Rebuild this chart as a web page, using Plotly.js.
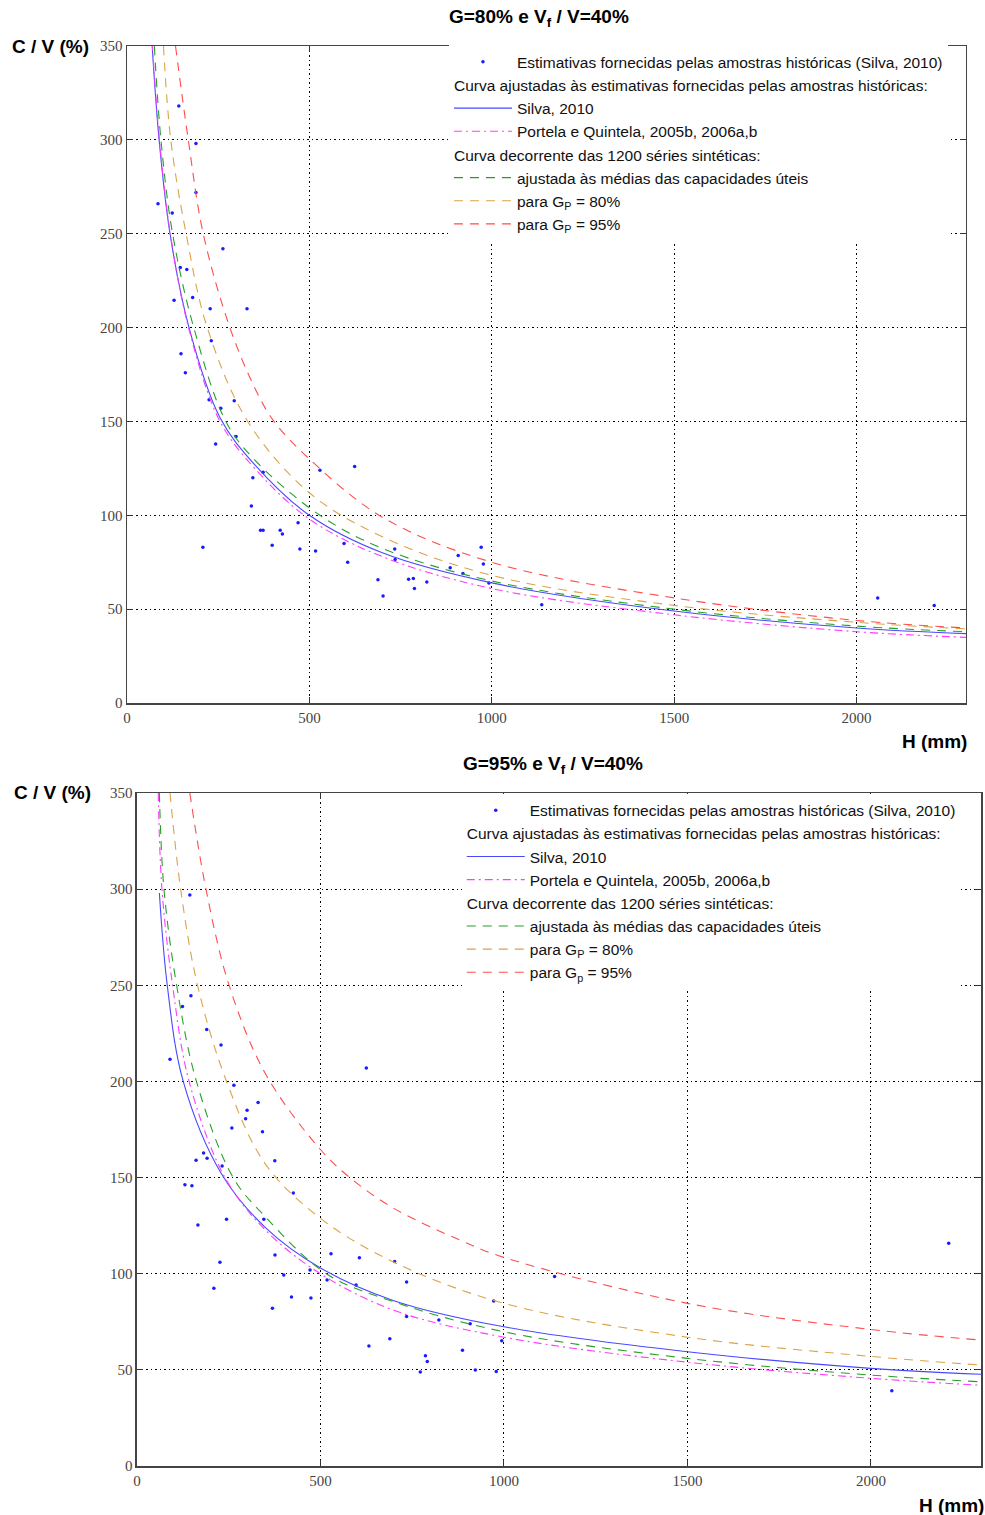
<!DOCTYPE html>
<html>
<head>
<meta charset="utf-8">
<script src="https://cdn.plot.ly/plotly-3.0.1.min.js"></script>
<style>html,body{margin:0;padding:0;background:#fff;}#chart{width:985px;height:1515px;}</style>
</head>
<body>
<div id="chart"></div>
<script>
// ---------- Top chart: G=80% ----------
const obsH80 = [85, 124, 142, 189, 189, 129, 180, 228, 329, 263, 146, 164, 148, 231, 160, 225, 257, 294, 243, 299, 345, 373, 341, 208, 366, 373, 420, 426, 398, 469, 474, 517, 529, 624, 595, 605, 734, 735, 688, 772, 785, 788, 702, 822, 886, 908, 921, 971, 977, 992, 1137, 2058, 2213];
const obsV80 = [266, 261, 318, 298, 272, 214.5, 216, 210, 210, 242, 232, 231, 186, 193, 176, 161.6, 157, 161, 138, 142, 120, 123, 105, 83, 92, 92, 92, 90, 84, 96, 82, 81, 124, 126, 85, 75, 82, 76.5, 65.7, 66, 66.4, 61, 57, 64.5, 72, 78.6, 69, 83, 74, 64, 52.4, 56, 52];

const silvaH80 = [69, 88, 118, 170, 255, 350, 500, 700, 1000, 1500, 2000, 2300];
const silvaV80 = [350, 300, 250, 200, 152, 127, 100, 80, 64, 49, 40, 37];
const portelaH80 = [69, 88, 118, 170, 255, 350, 500, 700, 1000, 1500, 2000, 2300];
const portelaV80 = [352, 302, 251, 199, 150, 125, 98, 78, 61, 47, 38, 35];
const meanH80 = [75, 93, 125, 183, 271, 350, 529, 700, 1000, 1500, 2000, 2300];
const meanV80 = [350, 300, 250, 200, 150, 129.5, 100, 82.4, 65, 50, 41, 38];
const gp80H80 = [100, 120, 162, 220, 331, 500, 700, 1000, 1500, 2000, 2300];
const gp80V80 = [350, 300, 250, 200, 150, 112, 88.6, 68, 52, 43, 39.5];
const gp95H80 = [133, 168, 209, 282, 350, 403, 500, 700, 1000, 1500, 2000, 2300];
const gp95V80 = [350, 300, 250, 200, 168, 150, 130, 99, 75, 56, 44, 40];

// ---------- Bottom chart: G=95% ----------
const obsH95 = [144, 147, 124, 190, 229, 90, 264, 330, 300, 296, 258.5, 342, 181.5, 161, 191, 232, 375.5, 130.6, 149.7, 426, 166, 244, 345.6, 226, 376, 528.7, 606, 702, 209.5, 400, 471.6, 518, 597, 734.7, 421, 474, 369, 734.7, 822.6, 632, 689, 972, 1138, 908, 994, 887, 786, 791, 772, 922, 979, 2212, 2057, 625];
const obsV95 = [297, 244.6, 239, 227, 219, 211.5, 198, 189, 185, 180.6, 175.8, 173.9, 162.8, 159, 160, 156, 158.8, 146.3, 145.8, 142, 125.3, 128.4, 128.4, 106, 109.7, 110.4, 108.3, 106.4, 92.4, 99.3, 101.9, 96.7, 94.1, 95.7, 87.9, 87.4, 82, 77.8, 75.9, 62.4, 66.2, 85.8, 98.6, 74, 65.2, 60.2, 57.4, 54.4, 48.9, 49.9, 49.2, 115.8, 39.2, 207];

const silvaH95 = [61, 82.5, 126, 230, 350, 500, 700, 1000, 1500, 2000, 2300];
const silvaV95 = [298, 250, 200, 152, 124, 103, 86, 72.4, 59.4, 50.8, 47.7];
const portelaH95 = [58, 68, 97, 142, 240, 350, 500, 700, 1000, 1500, 2000, 2300];
const portelaV95 = [350, 300, 250, 200, 150, 122.7, 100, 81, 67, 54, 45.6, 42];
const meanH95 = [61, 73.5, 108, 162, 262, 350, 516, 700, 1000, 1500, 2000, 2300];
const meanV95 = [350, 300, 250, 200, 150, 129.6, 100, 85.4, 69.8, 56, 47.3, 43.8];
const gp80H95 = [90, 119, 165, 244, 350, 500, 700, 1000, 1500, 2000, 2300];
const gp80V95 = [350, 300, 250, 200, 157, 128.8, 106, 84.6, 67, 57, 52.5];
const gp95H95 = [144, 188, 251, 350, 498, 580, 700, 880, 1000, 1500, 2000, 2300];
const gp95V95 = [350, 300, 250, 204, 165, 150, 134, 117.5, 108.5, 84.6, 71, 65.5];

// ---------- Labels ----------
const titleTop = "<b>G=80% e V<sub>f</sub> / V=40%</b>";
const titleBot = "<b>G=95% e V<sub>f</sub> / V=40%</b>";
const yLabel = "<b>C / V (%)</b>";
const xLabel = "<b>H (mm)</b>";
const nameObs = "Estimativas fornecidas pelas amostras históricas (Silva, 2010)";
const groupFit = "Curva ajustadas às estimativas fornecidas pelas amostras históricas:";
const nameSilva = "Silva, 2010";
const namePortela = "Portela e Quintela, 2005b, 2006a,b";
const groupSynth = "Curva decorrente das 1200 séries sintéticas:";
const nameMean = "ajustada às médias das capacidades úteis";
const nameGp80 = "para G<sub>P</sub> = 80%";
const nameGp95Top = "para G<sub>P</sub> = 95%";
const nameGp95Bot = "para G<sub>p</sub> = 95%";

const colBlue = "#4848ff", colMag = "#ff3cff", colGreen = "#28a028", colOrange = "#dca347", colRed = "#ff4d4d";
const dashLong = "9px,7px";
const dashDot = "8px,4px,2px,4px";

function makeTraces(sfx, xa, ya, leg, d, gp95Name) {
  return [
    {x: d.obsH, y: d.obsV, type: "scatter", mode: "markers", name: nameObs,
     marker: {color: "#1a1aff", size: 3.5}, xaxis: xa, yaxis: ya, legend: leg, legendgroup: "a" + sfx},
    {x: d.silvaH, y: d.silvaV, type: "scatter", mode: "lines", name: nameSilva,
     line: {color: colBlue, width: 1.1, shape: "spline"}, xaxis: xa, yaxis: ya, legend: leg,
     legendgroup: "b" + sfx, legendgrouptitle: {text: groupFit}},
    {x: d.portelaH, y: d.portelaV, type: "scatter", mode: "lines", name: namePortela,
     line: {color: colMag, width: 1.1, dash: dashDot, shape: "spline"}, xaxis: xa, yaxis: ya, legend: leg,
     legendgroup: "b" + sfx},
    {x: d.meanH, y: d.meanV, type: "scatter", mode: "lines", name: nameMean,
     line: {color: colGreen, width: 1.1, dash: dashLong, shape: "spline"}, xaxis: xa, yaxis: ya, legend: leg,
     legendgroup: "c" + sfx, legendgrouptitle: {text: groupSynth}},
    {x: d.gp80H, y: d.gp80V, type: "scatter", mode: "lines", name: nameGp80,
     line: {color: colOrange, width: 1.1, dash: dashLong, shape: "spline"}, xaxis: xa, yaxis: ya, legend: leg,
     legendgroup: "c" + sfx},
    {x: d.gp95H, y: d.gp95V, type: "scatter", mode: "lines", name: gp95Name,
     line: {color: colRed, width: 1.1, dash: dashLong, shape: "spline"}, xaxis: xa, yaxis: ya, legend: leg,
     legendgroup: "c" + sfx}
  ];
}

const traces = [].concat(
  makeTraces("1", "x", "y", "legend", {obsH: obsH80, obsV: obsV80, silvaH: silvaH80, silvaV: silvaV80,
    portelaH: portelaH80, portelaV: portelaV80, meanH: meanH80, meanV: meanV80,
    gp80H: gp80H80, gp80V: gp80V80, gp95H: gp95H80, gp95V: gp95V80}, nameGp95Top),
  makeTraces("2", "x2", "y2", "legend2", {obsH: obsH95, obsV: obsV95, silvaH: silvaH95, silvaV: silvaV95,
    portelaH: portelaH95, portelaV: portelaV95, meanH: meanH95, meanV: meanV95,
    gp80H: gp80H95, gp80V: gp80V95, gp95H: gp95H95, gp95V: gp95V95}, nameGp95Bot)
);

const tickFont = {family: "Liberation Serif, DejaVu Serif, serif", size: 15, color: "#444"};
function xAxis(domain, anchor) {
  return {domain: domain, anchor: anchor, range: [0, 2300], tick0: 0, dtick: 500,
    showgrid: true, gridcolor: "#000", griddash: "2px,3px,1px,3px", gridwidth: 1,
    zeroline: false, showline: true, linecolor: "#444", linewidth: 1.5, mirror: "ticks",
    ticks: "inside", ticklen: 6, tickcolor: "#333", tickfont: tickFont};
}
function yAxis(domain, anchor) {
  return {domain: domain, anchor: anchor, range: [0, 350], tick0: 0, dtick: 50,
    showgrid: true, gridcolor: "#000", griddash: "2px,3px,1px,3px", gridwidth: 1,
    zeroline: false, showline: true, linecolor: "#444", linewidth: 1.5, mirror: "ticks",
    ticks: "inside", ticklen: 6, tickcolor: "#333", tickfont: tickFont};
}
const legFont = {family: "Liberation Sans, Arial, sans-serif", size: 15.5, color: "#111"};
function legend(x, y) {
  return {x: x, y: y, xref: "paper", yref: "paper", xanchor: "left", yanchor: "top",
    bgcolor: "rgba(255,255,255,1)", borderwidth: 0, font: legFont, grouptitlefont: legFont,
    tracegroupgap: 0, itemwidth: 58, traceorder: "grouped"};
}
const annFont = {family: "Liberation Sans, Arial, sans-serif", size: 19, color: "#000"};

const layout = {
  width: 985, height: 1515,
  margin: {l: 127, r: 4, t: 46, b: 49},
  paper_bgcolor: "#fff", plot_bgcolor: "#fff",
  showlegend: true,
  xaxis: xAxis([0, 0.9824], "y"),
  yaxis: yAxis([0.5373, 1], "x"),
  xaxis2: xAxis([0.0117, 1], "y2"),
  yaxis2: yAxis([0, 0.4739], "x2"),
  legend: legend(0.377, 1.0005),
  legend2: legend(0.392, 0.4735),
  annotations: [
    {text: titleTop, x: 0.4824, y: 1.0197, xref: "paper", yref: "paper", showarrow: false, font: annFont, xanchor: "center", yanchor: "middle"},
    {text: titleBot, x: 0.4988, y: 0.4937, xref: "paper", yref: "paper", showarrow: false, font: annFont, xanchor: "center", yanchor: "middle"},
    {text: yLabel, x: -0.089, y: 1.0, xref: "paper", yref: "paper", showarrow: false, font: annFont, xanchor: "center", yanchor: "middle"},
    {text: yLabel, x: -0.0867, y: 0.4746, xref: "paper", yref: "paper", showarrow: false, font: annFont, xanchor: "center", yanchor: "middle"},
    {text: xLabel, x: 0.946, y: 0.5099, xref: "paper", yref: "paper", showarrow: false, font: annFont, xanchor: "center", yanchor: "middle"},
    {text: xLabel, x: 0.965, y: -0.0275, xref: "paper", yref: "paper", showarrow: false, font: annFont, xanchor: "center", yanchor: "middle"}
  ]
};

Plotly.newPlot("chart", traces, layout, {displayModeBar: false, staticPlot: true});
</script>
</body>
</html>
